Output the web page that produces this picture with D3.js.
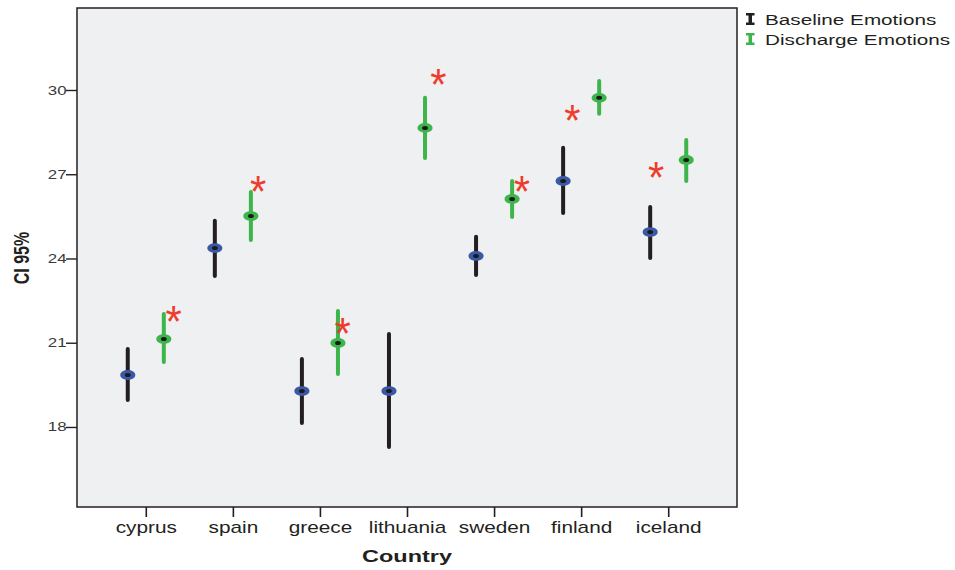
<!DOCTYPE html>
<html>
<head>
	<title>CI 95% by country</title>
	<script src="https://d3js.org/d3.v7.min.js"></script>
	<style>
		body { margin: 0; background: #fff; }
		text { font-family: "Liberation Sans", Arial, sans-serif; }
	</style>
</head>
<body>
<section id="container"></section>
<script>
//Chart data
var countries = ["cyprus","spain","greece","lithuania","sweden","finland","iceland"];
var baselineMean = [19.85, 24.37, 19.28, 19.28, 24.09, 26.76, 24.94];
var baselineLow  = [18.96, 23.38, 18.14, 17.29, 23.41, 25.62, 24.02];
var baselineHigh = [20.78, 25.34, 20.42, 21.31, 24.77, 27.94, 25.83];
var dischargeMean = [21.13, 25.51, 20.99, 28.65, 26.12, 29.72, 27.51];
var dischargeLow  = [20.31, 24.66, 19.89, 27.58, 25.48, 29.15, 26.76];
var dischargeHigh = [22.02, 26.37, 22.13, 29.72, 26.76, 30.32, 28.22];
//Significance markers: value and offset from the category centre (in category steps)
var starValue = [22.06, 26.69, 21.63, 30.50, 26.69, 29.22, 27.19];
var starShift = [0.32, 0.29, 0.26, 0.36, 0.32, -0.10, -0.14];
var yTicks = [18, 21, 24, 27, 30];

var W = 955, H = 570;
var plotLeft = 77, plotRight = 737, plotTop = 8, plotBottom = 507;
//the original picture is stretched sideways, so the text is too
var stretch = 1.35;

var svg = d3.select("#container")
	.append("svg")
	.attr("width", W)
	.attr("height", H);

var x = d3.scalePoint()
	.domain(countries)
	.range([plotLeft, plotRight])
	.padding(0.79);

var y = d3.scaleLinear()
	.domain([15.15, 32.92])
	.range([plotBottom, plotTop]);

var step = x.step();
var off = step * 0.207;

//Plot background and frame
svg.append("rect")
	.attr("x", plotLeft).attr("y", plotTop)
	.attr("width", plotRight - plotLeft).attr("height", plotBottom - plotTop)
	.attr("fill", "#eff0f2")
	.attr("stroke", "#231f20")
	.attr("stroke-width", 1.5);

//Y axis
var yAxis = svg.append("g")
	.attr("transform", "translate(" + plotLeft + ",0)")
	.call(d3.axisLeft(y).tickValues(yTicks).tickSize(11));
yAxis.select(".domain").remove();
yAxis.selectAll("line").attr("stroke", "#231f20").attr("stroke-width", 1.4);
yAxis.selectAll("text")
	.attr("x", -10.5 / stretch)
	.attr("transform", "scale(" + stretch + ",1)")
	.attr("font-size", 12.5).attr("fill", "#3a3a3a")
	.style("font-family", "Liberation Sans, Arial, sans-serif");

//X axis
var xAxis = svg.append("g")
	.attr("transform", "translate(0," + plotBottom + ")")
	.call(d3.axisBottom(x).tickSize(10).tickPadding(5));
xAxis.select(".domain").remove();
xAxis.selectAll("line").attr("stroke", "#231f20").attr("stroke-width", 1.6);
xAxis.selectAll("text")
	.attr("transform", "scale(1.3,1)")
	.attr("font-size", 16).attr("fill", "#231f20")
	.style("font-family", "Liberation Sans, Arial, sans-serif");

//Axis titles
svg.append("text")
	.attr("transform", "translate(" + (plotLeft + plotRight) / 2 + ",562) scale(1.38,1)")
	.attr("text-anchor", "middle")
	.attr("font-size", 17)
	.attr("font-weight", "bold")
	.attr("fill", "#231f20")
	.text("Country");

svg.append("text")
	.attr("transform", "translate(29,258) rotate(-90) scale(1," + stretch + ")")
	.attr("text-anchor", "middle")
	.attr("font-size", 16)
	.attr("font-weight", "bold")
	.attr("fill", "#231f20")
	.text("CI 95%");

//Error bars with mean markers
function drawSeries(mean, low, high, dx, barColor, ringColor) {
	var g = svg.append("g");
	var rows = countries.map(function(c, i) {
		return {c: c, m: mean[i], lo: low[i], hi: high[i]};
	});
	g.selectAll("line.bar")
		.data(rows)
		.enter().append("line")
		.attr("class", "bar")
		.attr("x1", function(d) { return x(d.c) + dx; })
		.attr("x2", function(d) { return x(d.c) + dx; })
		.attr("y1", function(d) { return y(d.hi); })
		.attr("y2", function(d) { return y(d.lo); })
		.attr("stroke", barColor)
		.attr("stroke-width", 4)
		.attr("stroke-linecap", "round");
	g.selectAll("ellipse.ring")
		.data(rows)
		.enter().append("ellipse")
		.attr("class", "ring")
		.attr("cx", function(d) { return x(d.c) + dx; })
		.attr("cy", function(d) { return y(d.m); })
		.attr("rx", 7.6).attr("ry", 4.9)
		.attr("fill", ringColor);
	g.selectAll("ellipse.dot")
		.data(rows)
		.enter().append("ellipse")
		.attr("class", "dot")
		.attr("cx", function(d) { return x(d.c) + dx; })
		.attr("cy", function(d) { return y(d.m); })
		.attr("rx", 2.9).attr("ry", 2)
		.attr("fill", "#1a1a1a");
}

drawSeries(baselineMean, baselineLow, baselineHigh, -off, "#231f20", "#3b58a6");
drawSeries(dischargeMean, dischargeLow, dischargeHigh, off, "#3db54a", "#3db54a");

//Significance asterisks
svg.append("g").selectAll("text")
	.data(countries)
	.enter().append("text")
	.attr("transform", function(d, i) {
		return "translate(" + (x(d) + starShift[i] * step) + "," + (y(starValue[i]) + 24) + ") scale(0.95,1)";
	})
	.attr("text-anchor", "middle")
	.attr("font-size", 44)
	.attr("fill", "#ef3b2c")
	.text("*");

//Legend
var legendItems = [
	{label: "Baseline Emotions", color: "#231f20"},
	{label: "Discharge Emotions", color: "#3db54a"}
];
var legend = svg.append("g").attr("transform", "translate(746,19)");
legendItems.forEach(function(item, i) {
	var row = legend.append("g").attr("transform", "translate(0," + i * 20 + ")");
	row.append("rect").attr("x", 2.5).attr("y", -6).attr("width", 3.5).attr("height", 12).attr("fill", item.color);
	row.append("rect").attr("x", 0).attr("y", -6).attr("width", 8.5).attr("height", 2.5).attr("fill", item.color);
	row.append("rect").attr("x", 0).attr("y", 3.5).attr("width", 8.5).attr("height", 2.5).attr("fill", item.color);
	row.append("text")
		.attr("transform", "translate(19,5.5) scale(1.38,1)")
		.attr("font-size", 15)
		.attr("fill", "#231f20")
		.text(item.label);
});
</script>
</body>
</html>
